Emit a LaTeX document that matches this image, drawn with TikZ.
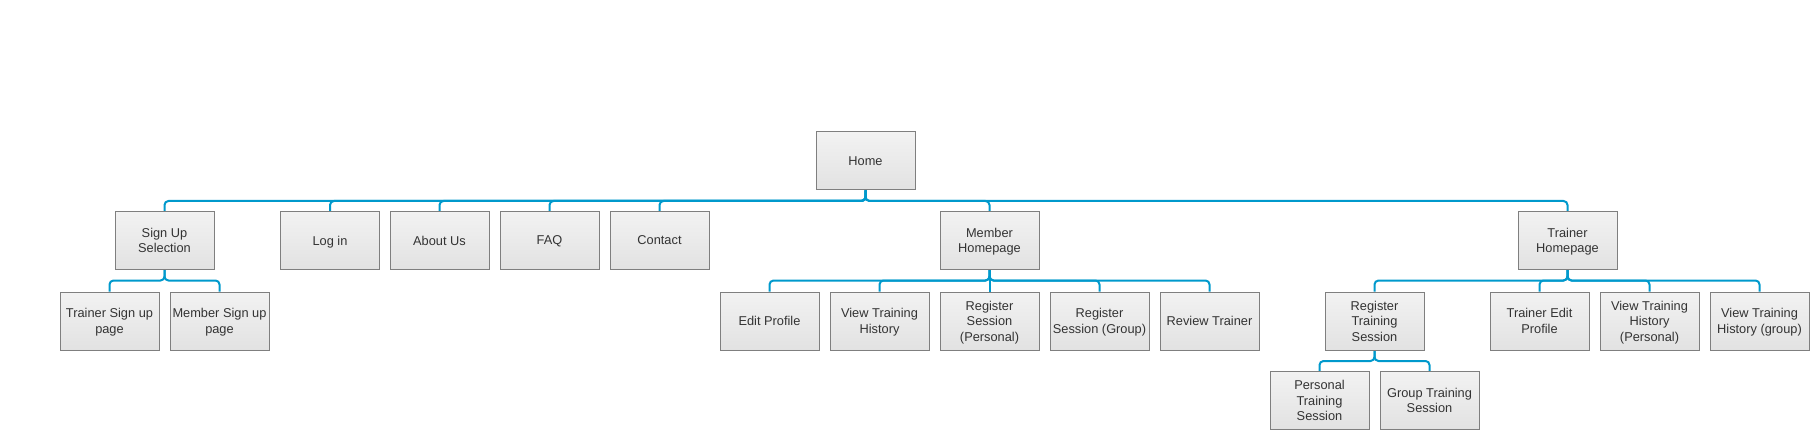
\documentclass[tikz,border=0pt]{standalone}
\usepackage{fontspec}
\setmainfont{Liberation Sans}
\usepackage{tikz}
\pgfdeclarelayer{bg}
\pgfsetlayers{bg,main}
\definecolor{boxtop}{HTML}{F2F2F2}
\definecolor{boxbot}{HTML}{E2E2E2}
\definecolor{boxline}{HTML}{7F7F7F}
\definecolor{boxtext}{HTML}{333333}
\definecolor{linkblue}{HTML}{0099CC}
\tikzset{
        page/.style={draw=boxline, line width=0.75pt, top color=boxtop, bottom color=boxbot,
                minimum width=74.25pt, minimum height=43.5pt, inner sep=1pt, align=center,
                text depth=0pt, text=boxtext, font=\fontsize{9.6pt}{11.6pt}\selectfont},
        link/.style={draw=linkblue, line width=1.5pt, rounded corners=3pt,
                to path={(\tikztostart.south) -- ++(0,10.5) -| (\tikztotarget.north)}}
}
\begin{document}
\begin{tikzpicture}[x=0.75pt, y=-0.75pt]
        \useasboundingbox (0,0) rectangle (1810,431);
        \node (v0) [page] at (865.5, 161) {Home};
        \node (v1) [page] at (164.5, 240.5) {Sign Up\\Selection};
        \node (v2) [page] at (330, 240.5) {Log in};
        \node (v3) [page] at (439.5, 240.5) {About Us};
        \node (v4) [page] at (549.5, 240.5) {FAQ};
        \node (v5) [page] at (659.5, 240.5) {Contact};
        \node (v6) [page] at (989.5, 240.5) {Member\\Homepage};
        \node (v7) [page] at (1567.5, 240.5) {Trainer\\Homepage};
        \node (v8) [page] at (109.5, 321) {Trainer Sign up\\page};
        \node (v9) [page] at (219.5, 321) {Member Sign up\\page};
        \node (v10) [page] at (769.5, 321) {Edit Profile};
        \node (v11) [page] at (879.5, 321) {View Training\\History};
        \node (v12) [page] at (989.5, 321) {Register\\Session\\(Personal)};
        \node (v13) [page] at (1099.5, 321) {Register\\Session (Group)};
        \node (v14) [page] at (1209.5, 321) {Review Trainer};
        \node (v15) [page] at (1374.5, 321) {Register\\Training\\Session};
        \node (v16) [page] at (1539.5, 321) {Trainer Edit\\Profile};
        \node (v17) [page] at (1649.5, 321) {View Training\\History\\(Personal)};
        \node (v18) [page] at (1759.5, 321) {View Training\\History (group)};
        \node (v19) [page] at (1319.5, 400.5) {Personal\\Training\\Session};
        \node (v20) [page] at (1429.5, 400.5) {Group Training\\Session};
        \begin{pgfonlayer}{bg}
                \foreach \j in {1,...,7}
                        \draw (v0) edge [link] (v\j);
                \draw (v1) edge [link] (v8);
                \draw (v1) edge [link] (v9);
                \foreach \j in {10,...,14}
                        \draw (v6) edge [link] (v\j);
                \foreach \j in {15,...,18}
                        \draw (v7) edge [link] (v\j);
                \draw (v15) edge [link] (v19);
                \draw (v15) edge [link] (v20);
        \end{pgfonlayer}
\end{tikzpicture}
\end{document}
